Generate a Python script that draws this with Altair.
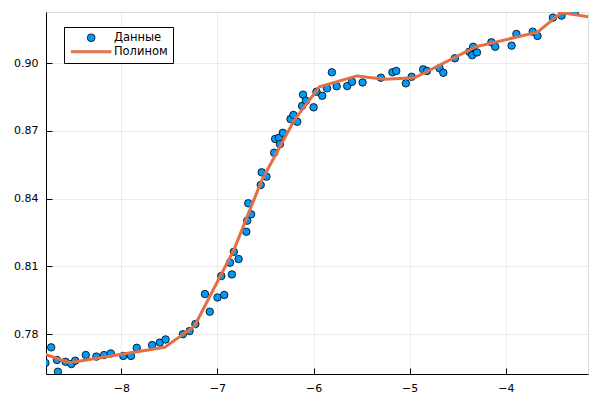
import altair as alt
import pandas as pd

# Scatter data ("Данные")
data_x = [-8.79, -8.73, -8.67, -8.66, -8.58, -8.52, -8.48, -8.37, -8.26, -8.18,
          -8.11, -7.98, -7.90, -7.84, -7.68, -7.60, -7.54, -7.36, -7.29, -7.23,
          -7.13, -7.08, -7.00, -6.96, -6.93, -6.87, -6.85, -6.83, -6.78, -6.70,
          -6.69, -6.68, -6.65, -6.55, -6.54, -6.49, -6.41, -6.40, -6.36, -6.35,
          -6.32, -6.24, -6.21, -6.17, -6.12, -6.11, -6.08, -6.00, -5.97, -5.91,
          -5.86, -5.81, -5.76, -5.65, -5.60, -5.49, -5.30, -5.18, -5.14, -5.04,
          -4.98, -4.86, -4.82, -4.69, -4.65, -4.53, -4.38, -4.34, -4.35, -4.30,
          -4.15, -4.11, -3.94, -3.89, -3.72, -3.67, -3.51, -3.42, -3.28]
data_y = [0.7672, 0.7741, 0.7685, 0.7633, 0.7677, 0.7667, 0.7682, 0.7707, 0.7700, 0.7707,
          0.7714, 0.7703, 0.7703, 0.7739, 0.7751, 0.7762, 0.7776, 0.7799, 0.7813, 0.7844,
          0.7977, 0.7899, 0.7962, 0.8057, 0.7973, 0.8116, 0.8064, 0.8164, 0.8132, 0.8253,
          0.8302, 0.8379, 0.8330, 0.8460, 0.8516, 0.8497, 0.8603, 0.8664, 0.8669, 0.8641,
          0.8691, 0.8752, 0.8770, 0.8740, 0.8810, 0.8860, 0.8833, 0.8804, 0.8873, 0.8855,
          0.8888, 0.8959, 0.8897, 0.8898, 0.8917, 0.8914, 0.8935, 0.8959, 0.8965, 0.8910,
          0.8939, 0.8972, 0.8965, 0.8977, 0.8957, 0.9021, 0.9050, 0.9072, 0.9035, 0.9047,
          0.9092, 0.9072, 0.9077, 0.9129, 0.9139, 0.9120, 0.9201, 0.9210, 0.9228]

# Polynomial curve ("Полином") vertices
poly_x = [-8.79, -8.54, -7.55, -7.24, -6.83, -6.54, -6.20, -5.94, -5.55,
          -5.26, -4.95, -4.31, -3.67, -3.42, -3.14]
poly_y = [0.7710, 0.7673, 0.7741, 0.7835, 0.8172, 0.8480, 0.8748, 0.8895, 0.8943,
          0.8928, 0.8935, 0.9072, 0.9137, 0.9224, 0.9205]

series_names = ["Данные", "Полином"]
fill_colors = ["#009AFA", "#E26F46"]
stroke_colors = ["black", "#E26F46"]
line_glyph = "M-5.15,-0.28L5.15,-0.28L5.15,0.28L-5.15,0.28Z"
shapes = ["circle", line_glyph]

x_ticks = [-8, -7, -6, -5, -4]
y_ticks = [0.78, 0.81, 0.84, 0.87, 0.90]
x_domain = [-8.784, -3.145]
y_domain = [0.7623, 0.9226]

pts = pd.DataFrame({"x": data_x, "y": data_y, "s": series_names[0]})
poly = pd.DataFrame({"x": poly_x, "y": poly_y})

font = "DejaVu Sans"

xs = alt.Scale(domain=x_domain, nice=False, zero=False)
ys = alt.Scale(domain=y_domain, nice=False, zero=False)

xax = alt.Axis(values=x_ticks, format="d", title=None, grid=True, ticks=True,
               tickSize=alt.ExprRef("-6"), tickColor="black", tickWidth=1,
               labelPadding=14, labelFontSize=11, labelFont=font, labelColor="black",
               domainColor="black", gridColor="#000000", gridOpacity=0.07)
yax = alt.Axis(values=y_ticks, format=".2f", title=None, grid=True, ticks=True,
               tickSize=alt.ExprRef("-6"), tickColor="black", tickWidth=1,
               labelPadding=14, labelFontSize=11, labelFont=font, labelColor="black",
               domainColor="black", gridColor="#000000", gridOpacity=0.07)

legend = alt.Legend(
    title=None, orient="none", legendX=18, legendY=15,
    fillColor="white", strokeColor="black", padding=5,
    labelFont=font, labelFontSize=11.5, labelColor="black",
    symbolSize=60, symbolOffset=16.4, labelOffset=17, rowPadding=1,
    symbolStrokeWidth=0.8, symbolOpacity=1,
)

line = alt.Chart(poly).mark_line(strokeWidth=3, clip=True, color="#E26F46").encode(
    x=alt.X("x:Q", scale=xs, axis=xax),
    y=alt.Y("y:Q", scale=ys, axis=yax),
)

points = alt.Chart(pts).mark_point(filled=True, size=56, strokeWidth=0.8,
                                   opacity=1, clip=True).encode(
    x=alt.X("x:Q", scale=xs, axis=xax),
    y=alt.Y("y:Q", scale=ys, axis=yax),
    fill=alt.Fill("s:N", scale=alt.Scale(domain=series_names, range=fill_colors), legend=legend),
    stroke=alt.Stroke("s:N", scale=alt.Scale(domain=series_names, range=stroke_colors), legend=legend),
    shape=alt.Shape("s:N", scale=alt.Scale(domain=series_names, range=shapes), legend=legend),
)

chart = alt.layer(points, line).properties(
    width=542, height=362,
    padding={"left": 5, "top": 4, "right": 4, "bottom": 0},
).configure_view(stroke=None).configure(background="white")

chart.save("out.html", embed_options={"renderer": "svg", "actions": False})
